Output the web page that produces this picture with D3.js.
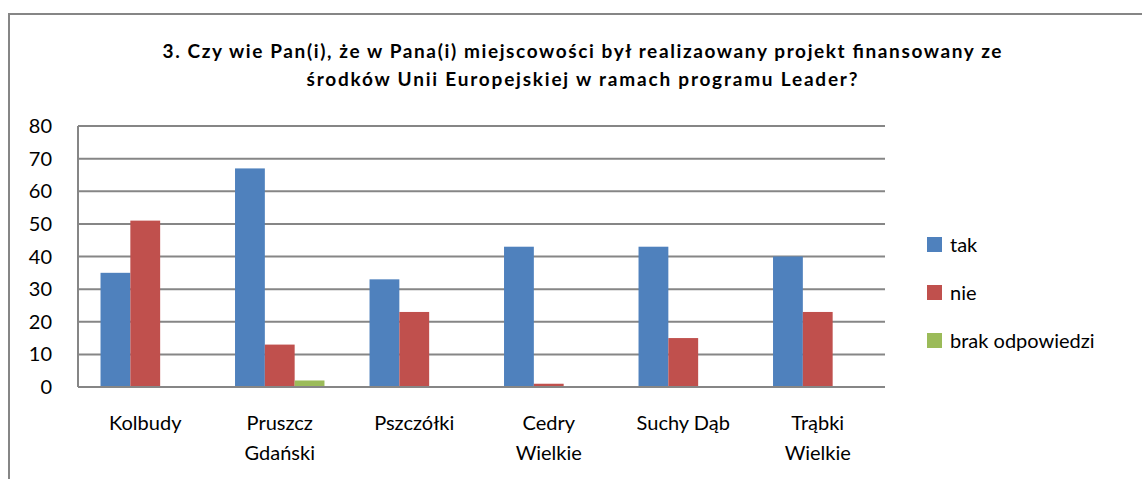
<!DOCTYPE html>
<html>
<head>
<meta charset="utf-8">
<script src="https://cdn.jsdelivr.net/npm/d3@7"></script>
<style>
  body { margin: 0; background: #fff; }
  svg { font-family: Lato, "Open Sans", sans-serif; }
</style>
</head>
<body>
<div id="chart"></div>
<script>
// data
const categories = [["Kolbudy"], ["Pruszcz", "Gdański"], ["Pszczółki"], ["Cedry", "Wielkie"], ["Suchy Dąb"], ["Trąbki", "Wielkie"]];
const seriesNames = ["tak", "nie", "brak odpowiedzi"];
const tak = [35, 67, 33, 43, 43, 40];
const nie = [51, 13, 23, 1, 15, 23];
const brak = [0, 2, 0, 0, 0, 0];
const yTicks = [0, 10, 20, 30, 40, 50, 60, 70, 80];
const colors = ["#4f81bd", "#c0504d", "#9bbb59"];
const titleLines = ["3. Czy wie Pan(i), że w Pana(i) miejscowości był realizaowany projekt finansowany ze",
                    "środków Unii Europejskiej w ramach programu Leader?"];

const width = 1142, height = 479;
const plot = { left: 78, right: 885, top: 126, bottom: 387 };

const svg = d3.select("#chart").append("svg")
    .attr("width", width)
    .attr("height", height);

// outer chart frame
svg.append("path")
    .attr("d", `M9,${height} V14 H${width}`)
    .attr("fill", "none")
    .attr("stroke", "#868686")
    .attr("stroke-width", 2);

// title (Calibri is wider than Lato at the same height, so stretch to its width)
const titleWidths = [839, 551];
svg.append("g").selectAll("text").data(titleLines).join("text")
    .attr("x", 582)
    .attr("y", (d, i) => 58 + i * 28)
    .attr("text-anchor", "middle")
    .attr("font-size", 19)
    .attr("font-weight", "bold")
    .attr("fill", "#000")
    .attr("textLength", (d, i) => titleWidths[i])
    .attr("lengthAdjust", "spacing")
    .text(d => d);

const x = d3.scaleBand().domain(d3.range(categories.length)).range([plot.left, plot.right]).paddingInner(0.335).paddingOuter(0.1675);
const x1 = d3.scaleBand().domain(d3.range(seriesNames.length)).range([0, x.bandwidth()]);
const y = d3.scaleLinear().domain([0, 80]).range([plot.bottom, plot.top]);

// gridlines
svg.append("g").selectAll("line").data(yTicks).join("line")
    .attr("x1", plot.left).attr("x2", plot.right)
    .attr("y1", d => y(d)).attr("y2", d => y(d))
    .attr("stroke", "#868686")
    .attr("stroke-width", 2);

// left axis line
svg.append("line")
    .attr("x1", plot.left).attr("x2", plot.left)
    .attr("y1", plot.top).attr("y2", plot.bottom)
    .attr("stroke", "#868686").attr("stroke-width", 2);

// y tick labels
svg.append("g").selectAll("text").data(yTicks).join("text")
    .attr("x", 52)
    .attr("y", d => y(d))
    .attr("dy", "0.35em")
    .attr("text-anchor", "end")
    .attr("font-size", 20)
    .attr("fill", "#000")
    .text(d => d);

// bars
const series = [tak, nie, brak];
series.forEach((vals, s) => {
    svg.append("g").selectAll("rect").data(vals).join("rect")
        .attr("x", (d, i) => x(i) + x1(s))
        .attr("y", d => y(d))
        .attr("width", x1.bandwidth())
        .attr("height", d => y(0) - y(d))
        .attr("fill", colors[s]);
});

// redraw baseline over bars
svg.append("line")
    .attr("x1", plot.left).attr("x2", plot.right)
    .attr("y1", y(0)).attr("y2", y(0))
    .attr("stroke", "#868686").attr("stroke-width", 2);

// category labels
const catG = svg.append("g").selectAll("text").data(categories).join("text")
    .attr("x", (d, i) => x(i) + x.bandwidth() / 2)
    .attr("y", 430)
    .attr("text-anchor", "middle")
    .attr("font-size", 20)
    .attr("fill", "#000");
catG.selectAll("tspan").data(d => d).join("tspan")
    .attr("x", function () { return d3.select(this.parentNode).attr("x"); })
    .attr("dy", (d, i) => i === 0 ? 0 : 30)
    .text(d => d);

// legend
const legend = svg.append("g").selectAll("g").data(seriesNames).join("g")
    .attr("transform", (d, i) => `translate(927, ${237 + i * 48})`);
legend.append("rect")
    .attr("width", 15).attr("height", 15)
    .attr("fill", (d, i) => colors[i]);
legend.append("text")
    .attr("x", 23)
    .attr("y", 8)
    .attr("dy", "0.35em")
    .attr("font-size", 20)
    .attr("fill", "#000")
    .text(d => d);
</script>
</body>
</html>
